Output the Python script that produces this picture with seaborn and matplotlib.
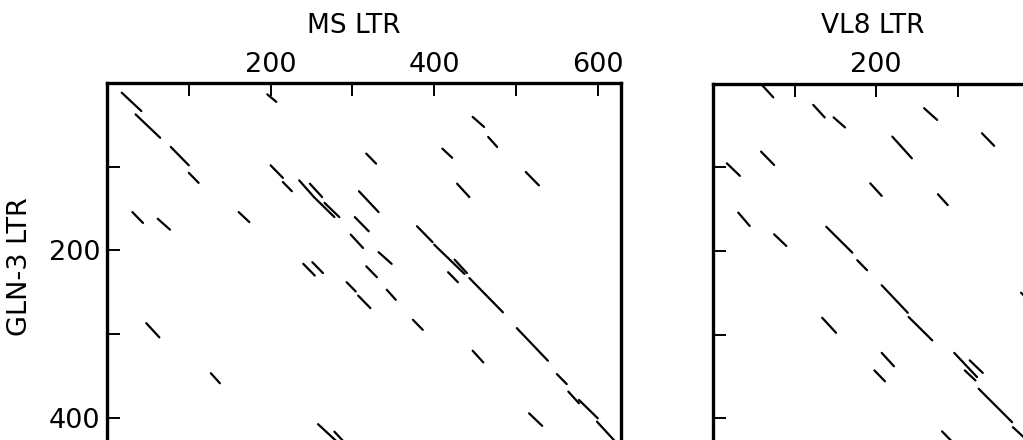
import pandas as pd
import seaborn as sns
import matplotlib
matplotlib.use("Agg")
import matplotlib.pyplot as plt
from matplotlib.ticker import FixedLocator

# dot-plot match runs, start (x0, y0) and end (x1, y1), in bp
# left: MS LTR (x) vs GLN-3 LTR (y)
ms_x0 = [18, 35, 78, 100, 196, 447, 466, 317, 410, 428, 200, 215, 235, 248, 253, 266,
         308, 303, 298, 379, 400, 425, 417, 443, 31, 62, 161, 332, 317, 240, 251, 293,
         307, 342, 374, 48, 447, 127, 258, 278, 501, 550, 564, 577, 599, 516, 512]
ms_y0 = [11, 37, 76, 107, 13, 40, 64, 84, 78, 120, 98, 118, 116, 120, 136, 143,
         129, 160, 181, 171, 193, 211, 226, 233, 154, 162, 154, 202, 219, 216, 214, 238,
         254, 247, 283, 287, 320, 347, 408, 417, 293, 348, 369, 379, 405, 395, 106]
ms_x1 = [42, 65, 100, 112, 207, 461, 477, 329, 422, 443, 215, 226, 253, 263, 278, 284,
         332, 320, 313, 398, 437, 440, 429, 484, 44, 77, 174, 348, 330, 254, 264, 304,
         322, 353, 386, 64, 460, 138, 290, 300, 539, 562, 577, 600, 630, 532, 528]
ms_y1 = [33, 65, 98, 119, 22, 52, 76, 96, 89, 136, 113, 129, 136, 136, 160, 160,
         154, 177, 197, 190, 228, 227, 238, 274, 167, 175, 166, 216, 232, 230, 227, 249,
         269, 259, 295, 304, 334, 359, 437, 440, 332, 360, 383, 401, 438, 410, 122]

# right: VL8 LTR (x) vs GLN-3 LTR (y)
vl_x0 = [59, 123, 148, 259, 330, 220, 59, 17, 193, 276, 31, 75, 139, 177, 207, 240,
         134, 207, 198, 296, 315, 309, 326, 368, 281, 378]
vl_y0 = [0, 25, 40, 29, 59, 63, 81, 95, 119, 132, 154, 180, 171, 211, 241, 279,
         280, 322, 343, 322, 331, 343, 365, 411, 416, 250]
vl_x1 = [74, 137, 162, 275, 345, 244, 75, 33, 207, 288, 45, 90, 171, 189, 239, 269,
         151, 222, 211, 324, 331, 322, 367, 400, 305, 400]
vl_y1 = [16, 40, 52, 43, 74, 89, 97, 110, 134, 145, 170, 194, 202, 223, 274, 307,
         298, 338, 356, 351, 346, 355, 405, 440, 440, 272]


def segments_frame(x0, y0, x1, y1):
    rows = []
    for i, (a, b, c, d) in enumerate(zip(x0, y0, x1, y1)):
        rows.append({"seg": i, "x": a, "y": b})
        rows.append({"seg": i, "x": c, "y": d})
    return pd.DataFrame(rows)


sns.set_style("white", {"text.color": "black", "axes.labelcolor": "black",
                        "xtick.color": "black", "ytick.color": "black",
                        "axes.edgecolor": "black"})
plt.rcParams["font.family"] = ["DejaVu Sans"]

W, H = 1023, 440
fig = plt.figure(figsize=(W / 100, H / 100), dpi=100)

# axes run past the bottom/right edges of the figure, like the cropped original
ax1 = fig.add_axes([107 / W, 1 - (83.5 + 501) / H, 513.7 / W, 501 / H])
ax2 = fig.add_axes([713 / W, 1 - (84 + 501) / H, 489 / W, 501 / H])

panels = [
    (ax1, segments_frame(ms_x0, ms_y0, ms_x1, ms_y1), 628, [200, 400, 600], [100, 300, 500]),
    (ax2, segments_frame(vl_x0, vl_y0, vl_x1, vl_y1), 600, [200], [100, 300]),
]

for ax, df, xmax, xmaj, xmin in panels:
    sns.lineplot(data=df, x="x", y="y", units="seg", estimator=None, sort=False,
                 color="black", lw=1.6, ax=ax, legend=False)
    ax.set_xlim(0, xmax)
    ax.set_ylim(600, 0)
    ax.set_xlabel("")
    ax.set_ylabel("")
    ax.xaxis.set_major_locator(FixedLocator(xmaj))
    ax.xaxis.set_minor_locator(FixedLocator(xmin))
    ax.yaxis.set_major_locator(FixedLocator([200, 400]))
    ax.yaxis.set_minor_locator(FixedLocator([100, 300, 500]))
    ax.tick_params(axis="x", which="both", top=True, bottom=False, labeltop=True,
                   labelbottom=False, direction="in", length=9, width=1.4,
                   pad=4, labelsize=19.5, color="black", labelcolor="black")
    ax.tick_params(axis="y", which="both", left=True, right=False, direction="in",
                   length=9, width=1.4, pad=5, labelsize=19.5, color="black",
                   labelcolor="black")
    for s in ax.spines.values():
        s.set_linewidth(2.4)
        s.set_color("black")

ax2.tick_params(axis="y", labelleft=False)

ax1.set_title("MS LTR", x=0.481, y=1.101, va="baseline", fontsize=19, pad=0)
ax2.set_title("VL8 LTR", x=0.327, y=1.102, va="baseline", fontsize=19, pad=0)

ax1.set_ylabel("GLN-3 LTR", fontsize=19.5)
ax1.yaxis.set_label_coords(-0.144, 0.635)

fig.savefig("out.png", dpi=100)
